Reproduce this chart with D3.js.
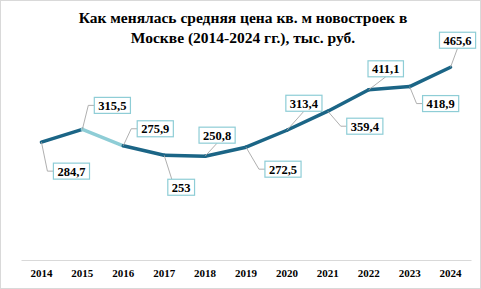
<!DOCTYPE html>
<html>
<head>
<meta charset="utf-8">
<script src="https://cdn.jsdelivr.net/npm/d3@7"></script>
<style>
  html, body { margin: 0; padding: 0; background: #fff; }
  #chart { width: 481px; height: 289px; }
  text { font-family: "Liberation Serif", "Times New Roman", serif; font-weight: bold; fill: #000; }
</style>
</head>
<body>
<div id="chart"></div>
<script>
const years = ["2014", "2015", "2016", "2017", "2018", "2019", "2020", "2021", "2022", "2023", "2024"];
const prices = [284.7, 315.5, 275.9, 253, 250.8, 272.5, 313.4, 359.4, 411.1, 418.9, 465.6];
const priceLabels = ["284,7", "315,5", "275,9", "253", "250,8", "272,5", "313,4", "359,4", "411,1", "418,9", "465,6"];
const titleLines = ["Как менялась средняя цена кв. м новостроек в", "Москве (2014-2024 гг.), тыс. руб."];

// label box placement relative to the point (hand tuned to the original)
const labelOffsets = [[30, 29], [30, -24], [32, -17], [17, 32], [12, -21], [37, 22], [17, -27], [37, 15], [17, -21], [31, 17], [7, -27]];

const width = 481, height = 289;
const svg = d3.select("#chart").append("svg")
  .attr("width", width)
  .attr("height", height);

svg.append("rect")
  .attr("x", 0.5).attr("y", 0.5)
  .attr("width", width - 1).attr("height", height - 1)
  .attr("fill", "#fff")
  .attr("stroke", "#d9d9d9");

svg.append("g")
  .selectAll("text")
  .data(titleLines)
  .join("text")
  .attr("x", 243)
  .attr("y", (d, i) => 23 + i * 20)
  .attr("text-anchor", "middle")
  .style("font-size", "15.5px")
  .text(d => d);

const x = d3.scaleBand().domain(years).range([21, 471]);
const y = d3.scaleLinear().domain([0, 500]).range([260, 53]);

const xAxis = svg.append("g")
  .attr("transform", `translate(0,${y(0)})`)
  .call(d3.axisBottom(x).tickSize(0).tickPadding(9));
xAxis.select(".domain").attr("stroke", "#d9d9d9");
xAxis.selectAll("text")
  .style("font-size", "11px")
  .style("font-family", "'Liberation Serif', 'Times New Roman', serif")
  .style("font-weight", "bold");

const pts = years.map((yr, i) => ({
  year: yr,
  value: prices[i],
  label: priceLabels[i],
  px: x(yr) + x.bandwidth() / 2,
  py: y(prices[i]),
  off: labelOffsets[i]
}));

const line = d3.line().x(d => d.px).y(d => d.py);

// dark line, with the 2015-2016 stretch in the lighter shade
const segments = d3.pairs(pts);
svg.append("g")
  .selectAll("path")
  .data(segments)
  .join("path")
  .attr("d", line)
  .attr("fill", "none")
  .attr("stroke", d => d[0].year === "2015" ? "#8ecdd6" : "#1b6586")
  .attr("stroke-width", 3.5)
  .attr("stroke-linecap", "round");

const labels = svg.append("g")
  .selectAll("g")
  .data(pts)
  .join("g");

labels.each(function(d) {
  const g = d3.select(this);
  const cx = d.px + d.off[0], cy = d.py + d.off[1];
  const txt = g.append("text")
    .attr("x", cx)
    .attr("y", cy)
    .attr("dy", "0.35em")
    .attr("text-anchor", "middle")
    .style("font-size", "12.5px")
    .text(d.label);
  const w = txt.node().getComputedTextLength() + 8;
  const h = 16;
  const left = cx - w / 2, top = cy - h / 2;
  let pathPts;
  if (d.px < left - 8) {
    pathPts = [[d.px, d.py], [left - 6, cy], [left, cy]];
  } else if (d.off[1] < 0) {
    pathPts = [[d.px, d.py], [cx, top + h]];
  } else {
    pathPts = [[d.px, d.py], [cx - w / 2 + 4, top]];
  }
  g.insert("path", "text")
    .attr("d", d3.line()(pathPts))
    .attr("fill", "none")
    .attr("stroke", "#a6a6a6")
    .attr("stroke-width", 0.9);
  g.insert("rect", "text")
    .attr("x", left)
    .attr("y", top)
    .attr("width", w)
    .attr("height", h)
    .attr("fill", "#fff")
    .attr("stroke", "#8ecdd6")
    .attr("stroke-width", 1.2);
});
</script>
</body>
</html>
